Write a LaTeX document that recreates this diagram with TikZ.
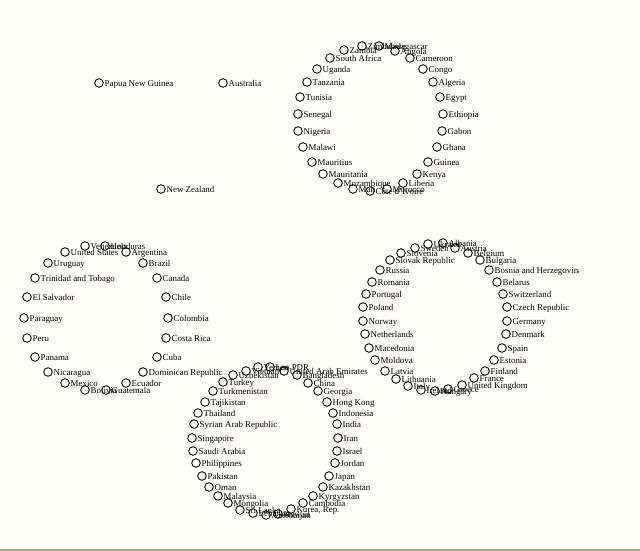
\documentclass[tikz,border=0pt]{standalone}
\usepackage{fontspec}
\setmainfont{Liberation Serif}
\definecolor{bgcol}{RGB}{255,255,248}
\definecolor{edgecol}{RGB}{170,170,120}
\tikzset{
  ctrydot/.style={circle,draw=black,line width=0.85pt,fill=none,minimum size=8.6pt,inner sep=0pt},
  ctrylab/.style={anchor=base west,inner sep=0pt,font=\fontsize{8.9}{10}\selectfont,text=black}
}
\begin{document}
\begin{tikzpicture}[x=1pt,y=-1pt]
\fill[bgcol] (0,0) rectangle (640,551);
\useasboundingbox (0,0) rectangle (640,551);
\draw[edgecol,line width=1.5pt] (0,550) -- (640,550);
\begin{scope}
\clip (0,0) rectangle (578,549);
\foreach \x/\y/\t [count=\i] in {
99/83/Papua New Guinea, 223/83/Australia, 161/189/New Zealand,
344/50/Zambia, 362/46/Zimbabwe, 379/46/Madagascar, 395/51/Angola, 410/58/Cameroon,
423/69/Congo, 433/82/Algeria, 440/97/Egypt, 443/114/Ethiopia, 442/131/Gabon,
437/147/Ghana, 428/162/Guinea, 417/174/Kenya, 403/183/Liberia, 387/189/Morocco,
370/191/C\^ote d'Ivoire, 353/189/Mali, 338/183/Mozambique, 323/174/Mauritania,
312/162/Mauritius, 303/147/Malawi, 298/131/Nigeria, 298/114/Senegal, 300/97/Tunisia,
307/82/Tanzania, 317/69/Uganda, 330/58/South Africa,
415/248/Sweden, 428/244/Ukraine, 443/243/Albania, 455/248/Austria, 468/253/Belgium,
480/260/Bulgaria, 489/270/Bosnia and Herzegovina, 497/282/Belarus, 503/294/Switzerland,
507/307/Czech Republic, 507/321/Germany, 506/334/Denmark, 502/348/Spain, 494/360/Estonia,
485/371/Finland, 474/378/France, 462/385/United Kingdom, 448/389/Greece, 435/391/Hungary,
421/390/Ireland, 408/386/Italy, 396/379/Lithuania, 385/371/Latvia, 375/360/Moldova,
369/348/Macedonia, 365/334/Netherlands, 363/321/Norway, 363/307/Poland, 366/294/Portugal,
372/282/Romania, 380/270/Russia, 390/260/Slovak Republic, 401/253/Slovenia,
85/246/Venezuela, 105/246/Honduras, 126/252/Argentina, 143/263/Brazil, 157/278/Canada,
166/297/Chile, 168/318/Colombia, 166/338/Costa Rica, 157/357/Cuba, 143/372/Dominican Republic,
126/383/Ecuador, 106/390/Guatemala, 85/390/Bolivia, 65/383/Mexico, 48/372/Nicaragua,
35/357/Panama, 27/338/Peru, 24/318/Paraguay, 27/297/El Salvador, 35/278/Trinidad and Tobago,
48/263/Uruguay, 65/252/United States,
246/371/Vietnam, 258/367/Yemen, 270/367/Lao PDR, 284/371/United Arab Emirates,
297/375/Bangladesh, 308/383/China, 318/391/Georgia, 327/402/Hong Kong, 333/413/Indonesia,
337/424/India, 338/438/Iran, 337/451/Israel, 335/463/Jordan, 329/476/Japan,
323/487/Kazakhstan, 313/496/Kyrgyzstan, 303/503/Cambodia, 291/509/{Korea, Rep.},
278/514/Kuwait, 266/515/Azerbaijan, 253/513/Lebanon, 240/510/Sri Lanka, 228/503/Mongolia,
218/496/Malaysia, 209/487/Oman, 202/476/Pakistan, 196/463/Philippines, 193/451/Saudi Arabia,
192/438/Singapore, 194/424/Syrian Arab Republic, 198/413/Thailand, 205/402/Tajikistan,
213/391/Turkmenistan, 223/382/Turkey, 233/375/Uzbekistan}
{
  \node[ctrydot] (c\i) at (\x,\y) {};
  \node[ctrylab] (l\i) at ([xshift=5.5pt,yshift=-3.3pt]c\i.center) {\t};
}
\end{scope}
\end{tikzpicture}
\end{document}
